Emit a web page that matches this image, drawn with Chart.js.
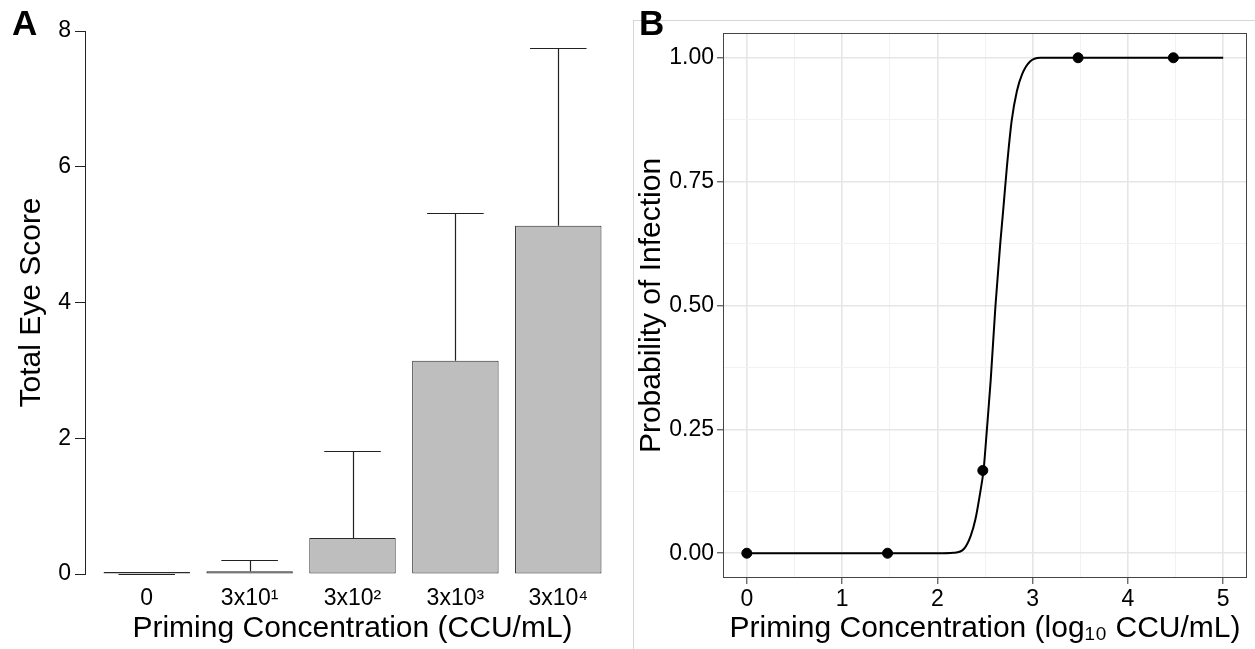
<!DOCTYPE html>
<html>
<head>
<meta charset="utf-8">
<script src="https://cdn.jsdelivr.net/npm/chart.js@4.4.1/dist/chart.umd.min.js"></script>
<style>
  body { margin: 0; background: #fff; width: 1255px; height: 649px; overflow: hidden; position: relative; font-family: "Liberation Sans", Arial, sans-serif; }
  #boxA { position: absolute; left: 0; top: 0; width: 630px; height: 649px; }
  #frameB { position: absolute; left: 633px; top: 20px; width: 622px; height: 629px; border-top: 1px solid #d6d6d6; border-left: 1px solid #d6d6d6; box-sizing: border-box; }
  #boxB { position: absolute; left: 634px; top: 0; width: 621px; height: 649px; }
  .tag { position: absolute; font-weight: bold; font-size: 35px; line-height: 35px; z-index: 2; }
</style>
</head>
<body>
<div class="tag" style="left:12px; top:5px;">A</div>
<div id="frameB"></div>
<div class="tag" style="left:639px; top:5px;">B</div>
<div id="boxA"><canvas id="eyeChart"></canvas></div>
<div id="boxB"><canvas id="probChart"></canvas></div>
<script>
// panel A: total eye score per priming dose
const categories = ['0', '3x10¹', '3x10²', '3x10³', '3x10⁴']
const barPositions = [1, 2, 3, 4, 5]
const meanScores = [0, 0.04, 0.53, 3.14, 5.13]
const upperScores = [0, 0.2, 1.81, 5.32, 7.75]
const scoreTicks = [0, 2, 4, 6, 8]

// panel B: observed proportions and fitted curve
const doseX = [0, 1.477, 2.477, 3.477, 4.477]
const infectedY = [0, 0, 0.167, 1, 1]
const curveX = [0, 1, 2, 2.17, 2.28, 2.35, 2.40, 2.45, 2.485, 2.52, 2.56, 2.61, 2.66, 2.69, 2.73, 2.78, 2.835, 2.89, 2.97, 3.08, 3.5, 4, 4.5, 5]
const curveY = [0, 0, 0, 0.001, 0.009, 0.035, 0.069, 0.123, 0.168, 0.25, 0.35, 0.5, 0.625, 0.69, 0.78, 0.873, 0.933, 0.967, 0.992, 1, 1, 1, 1, 1]
const majorX = [0, 1, 2, 3, 4, 5]
const minorX = [0.5, 1.5, 2.5, 3.5, 4.5]
const majorY = [0, 0.25, 0.5, 0.75, 1]
const minorY = [0.125, 0.375, 0.625, 0.875]

Chart.defaults.font.family = '"Liberation Sans", Arial, sans-serif'
Chart.defaults.color = '#000'
Chart.defaults.animation = false

const capHalf = 0.275 // half width of error bar cap, in category units

const errorBars = {
  id: 'errorBars',
  afterDatasetsDraw(chart) {
    const ctx = chart.ctx
    const x = chart.scales.x, y = chart.scales.y
    ctx.save()
    ctx.strokeStyle = '#222'
    ctx.lineWidth = 1.2
    barPositions.forEach((pos, i) => {
      const px = Math.round(x.getPixelForValue(pos)) + 0.5
      const top = Math.round(y.getPixelForValue(upperScores[i])) + 0.5
      const base = y.getPixelForValue(meanScores[i])
      ctx.beginPath()
      ctx.moveTo(px, base)
      ctx.lineTo(px, top)
      ctx.moveTo(x.getPixelForValue(pos - capHalf), top)
      ctx.lineTo(x.getPixelForValue(pos + capHalf), top)
      ctx.stroke()
    })
    ctx.restore()
  }
}

new Chart(document.getElementById('eyeChart'), {
  type: 'bar',
  data: {
    datasets: [{
      data: barPositions.map((p, i) => ({x: p, y: meanScores[i]})),
      backgroundColor: '#bebebe',
      borderColor: '#2a2a2a',
      borderWidth: 1,
      borderSkipped: false,
      minBarLength: 2,
      categoryPercentage: 1,
      barPercentage: 0.84
    }]
  },
  options: {
    responsive: true,
    maintainAspectRatio: false,
    layout: { padding: { top: 31, right: 10, left: 0, bottom: 0 } },
    plugins: { legend: { display: false }, tooltip: { enabled: false } },
    scales: {
      x: {
        type: 'linear',
        min: 0.4,
        max: 5.6,
        offset: false,
        afterBuildTicks: (axis) => { axis.ticks = barPositions.map(v => ({value: v})) },
        afterFit: (s) => { s.height = 75 },
        grid: { display: false, drawTicks: false },
        border: { display: false },
        ticks: {
          autoSkip: false,
          maxRotation: 0,
          padding: 11,
          font: { size: 23 },
          callback: (v) => categories[barPositions.indexOf(v)]
        },
        title: { display: true, text: 'Priming Concentration (CCU/mL)', font: { size: 30 }, padding: { top: 0, bottom: 2 } }
      },
      y: {
        min: 0,
        max: 8,
        afterBuildTicks: (axis) => { axis.ticks = scoreTicks.map(v => ({value: v})) },
        afterFit: (s) => { s.width = 85 },
        grid: { drawOnChartArea: false, tickLength: 10, tickColor: '#222', tickWidth: 1 },
        border: { display: true, color: '#222', width: 1 },
        ticks: { padding: 4, font: { size: 23 } },
        title: { display: true, text: 'Total Eye Score', font: { size: 30 }, padding: { top: 14, bottom: 0 } }
      }
    }
  },
  plugins: [errorBars]
})

const isMajor = (v, list) => list.some(m => Math.abs(m - v) < 1e-9)

const panelBorder = {
  id: 'panelBorder',
  afterDraw(chart) {
    const a = chart.chartArea
    const ctx = chart.ctx
    ctx.save()
    ctx.strokeStyle = '#444'
    ctx.lineWidth = 1
    ctx.strokeRect(Math.round(a.left) + 0.5, Math.round(a.top) + 0.5, Math.round(a.right - a.left) - 1, Math.round(a.bottom - a.top) - 1)
    ctx.restore()
  }
}

function gridOpts(majors) {
  return {
    color: (c) => isMajor(c.tick.value, majors) ? '#e6e6e6' : '#f2f2f2',
    lineWidth: (c) => isMajor(c.tick.value, majors) ? 1.6 : 1,
    tickColor: (c) => isMajor(c.tick.value, majors) ? '#333' : 'rgba(0,0,0,0)',
    tickWidth: 1,
    tickLength: 6
  }
}

new Chart(document.getElementById('probChart'), {
  type: 'scatter',
  data: {
    datasets: [{
      data: curveX.map((x, i) => ({x: x, y: curveY[i]})),
      showLine: true,
      borderColor: '#000',
      borderWidth: 2,
      pointRadius: 0,
      cubicInterpolationMode: 'monotone'
    }, {
      data: doseX.map((x, i) => ({x: x, y: infectedY[i]})),
      backgroundColor: '#000',
      borderColor: '#000',
      pointRadius: 5
    }]
  },
  options: {
    responsive: true,
    maintainAspectRatio: false,
    layout: { padding: { top: 33, right: 8, left: 0, bottom: 0 } },
    plugins: { legend: { display: false }, tooltip: { enabled: false } },
    scales: {
      x: {
        min: -0.25,
        max: 5.25,
        afterBuildTicks: (axis) => { axis.ticks = majorX.concat(minorX).sort((a, b) => a - b).map(v => ({value: v})) },
        afterFit: (s) => { s.height = 71 },
        grid: gridOpts(majorX),
        border: { display: false },
        ticks: {
          autoSkip: false,
          maxRotation: 0,
          padding: 2,
          font: { size: 23 },
          callback: (v) => isMajor(v, majorX) ? String(v) : ''
        },
        title: { display: true, text: 'Priming Concentration (log₁₀ CCU/mL)', font: { size: 30 }, padding: { top: 0, bottom: 2 } }
      },
      y: {
        min: -0.05,
        max: 1.05,
        afterBuildTicks: (axis) => { axis.ticks = majorY.concat(minorY).sort((a, b) => a - b).map(v => ({value: v})) },
        afterFit: (s) => { s.width = 89 },
        grid: gridOpts(majorY),
        border: { display: false },
        ticks: {
          autoSkip: false,
          padding: 3,
          font: { size: 23 },
          callback: (v) => isMajor(v, majorY) ? v.toFixed(2) : ''
        },
        title: { display: true, text: 'Probability of Infection', font: { size: 30 }, padding: { top: 0, bottom: 0 } }
      }
    }
  },
  plugins: [panelBorder]
})
</script>
</body>
</html>
